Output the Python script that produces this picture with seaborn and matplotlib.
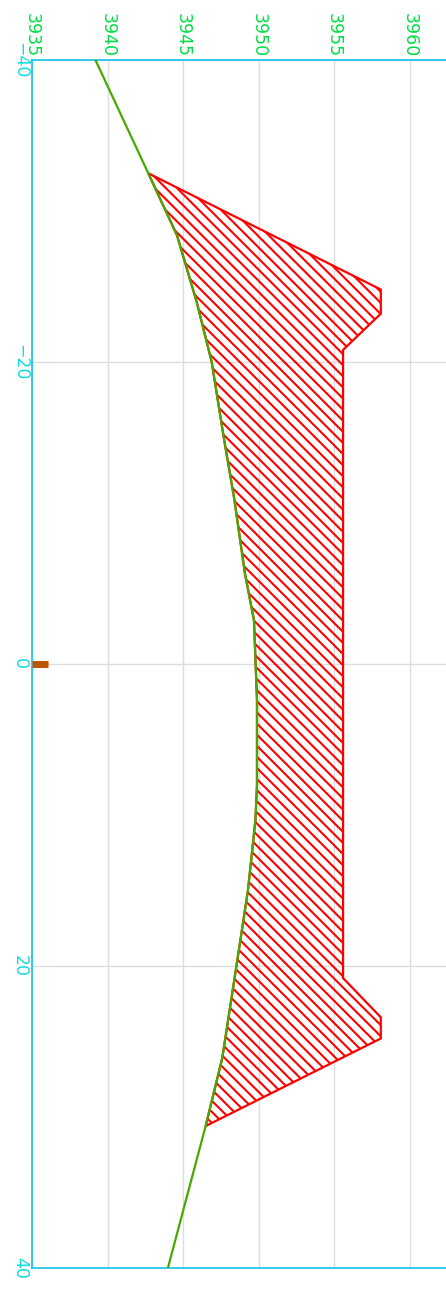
import numpy as np
import matplotlib
matplotlib.use("Agg")
import matplotlib.pyplot as plt
import seaborn as sns

# profil de referencia (eixo vertical = posicao, horizontal = valor)
pos_ref = [-40, -32.5, -28.4, -24, -20, -15, -10.9, -6, -2.9, 2.4, 8, 10.3, 15, 19.6, 26.1, 30.6, 40]
val_ref = [3939.2, 3942.7, 3944.6, 3945.9, 3946.9, 3947.7, 3948.4, 3949.1, 3949.7, 3949.9, 3949.9,
           3949.8, 3949.3, 3948.6, 3947.6, 3946.5, 3944.0]

# limite superior da area hachurada
pos_sup = [-32.5, -24.8, -23.2, -20.8, 20.8, 23.4, 24.8, 30.6]
val_sup = [3942.7, 3958.1, 3958.1, 3955.6, 3955.6, 3958.1, 3958.1, 3946.5]

# marca no eixo
pos_marca = [0, 0]
val_marca = [3935, 3936.05]

x_ticks = [3935, 3940, 3945, 3950, 3955, 3960]
y_ticks = [-40, -20, 0, 20, 40]

sns.set_theme(style="whitegrid")
plt.rcParams["font.family"] = ["DejaVu Sans"]
plt.rcParams["hatch.linewidth"] = 1.5
plt.rcParams["hatch.color"] = "#ff0000"

W, H = 446, 1290
fig = plt.figure(figsize=(W / 100, H / 100), dpi=100)
ax = fig.add_axes([32 / W, (H - 1268) / H, 1 - 32 / W, (1268 - 60) / H])

# poligono: limite superior + perfil de referencia invertido dentro do intervalo
pr = np.array(pos_ref)
vr = np.array(val_ref)
dentro = (pr > pos_sup[0]) & (pr < pos_sup[-1])
poly_pos = list(pos_sup) + list(pr[dentro][::-1])
poly_val = list(val_sup) + list(vr[dentro][::-1])
ax.fill(poly_val, poly_pos, facecolor="none", edgecolor="#ff0000", hatch="\\\\\\",
        linewidth=1.6, zorder=2)

sns.lineplot(x=val_ref, y=pos_ref, sort=False, estimator=None, color="#44aa00",
             linewidth=1.6, ax=ax, zorder=3)

ax.plot(val_marca, pos_marca, color="#bb5500", linewidth=5, solid_capstyle="butt",
        zorder=4, clip_on=False)

ax.set_xlim(3935, 3935 + 414 / 15.1)
ax.set_ylim(40, -40)
ax.set_xticks(x_ticks)
ax.set_yticks(y_ticks)
ax.set_xticklabels([str(v) for v in x_ticks], rotation=-90, va="bottom", ha="center")
ax.set_yticklabels([str(v).replace("-", "\u2212") for v in y_ticks], rotation=-90,
                   va="center", ha="right")
ax.xaxis.tick_top()
ax.tick_params(axis="x", colors="#00dd44", labelsize=12.5, length=0, pad=2)
ax.tick_params(axis="y", colors="#11dddd", labelsize=12.5, length=0, pad=2)
ax.grid(True, color="#dddddd", linewidth=1)
ax.set_xlabel("")
ax.set_ylabel("")
for lado in ["left", "top", "bottom"]:
    ax.spines[lado].set_color("#11c4ee")
    ax.spines[lado].set_linewidth(1.2)
    ax.spines[lado].set_visible(True)
ax.spines["right"].set_visible(False)
ax.set_facecolor("white")

fig.savefig("out.png", dpi=100, facecolor="white")
